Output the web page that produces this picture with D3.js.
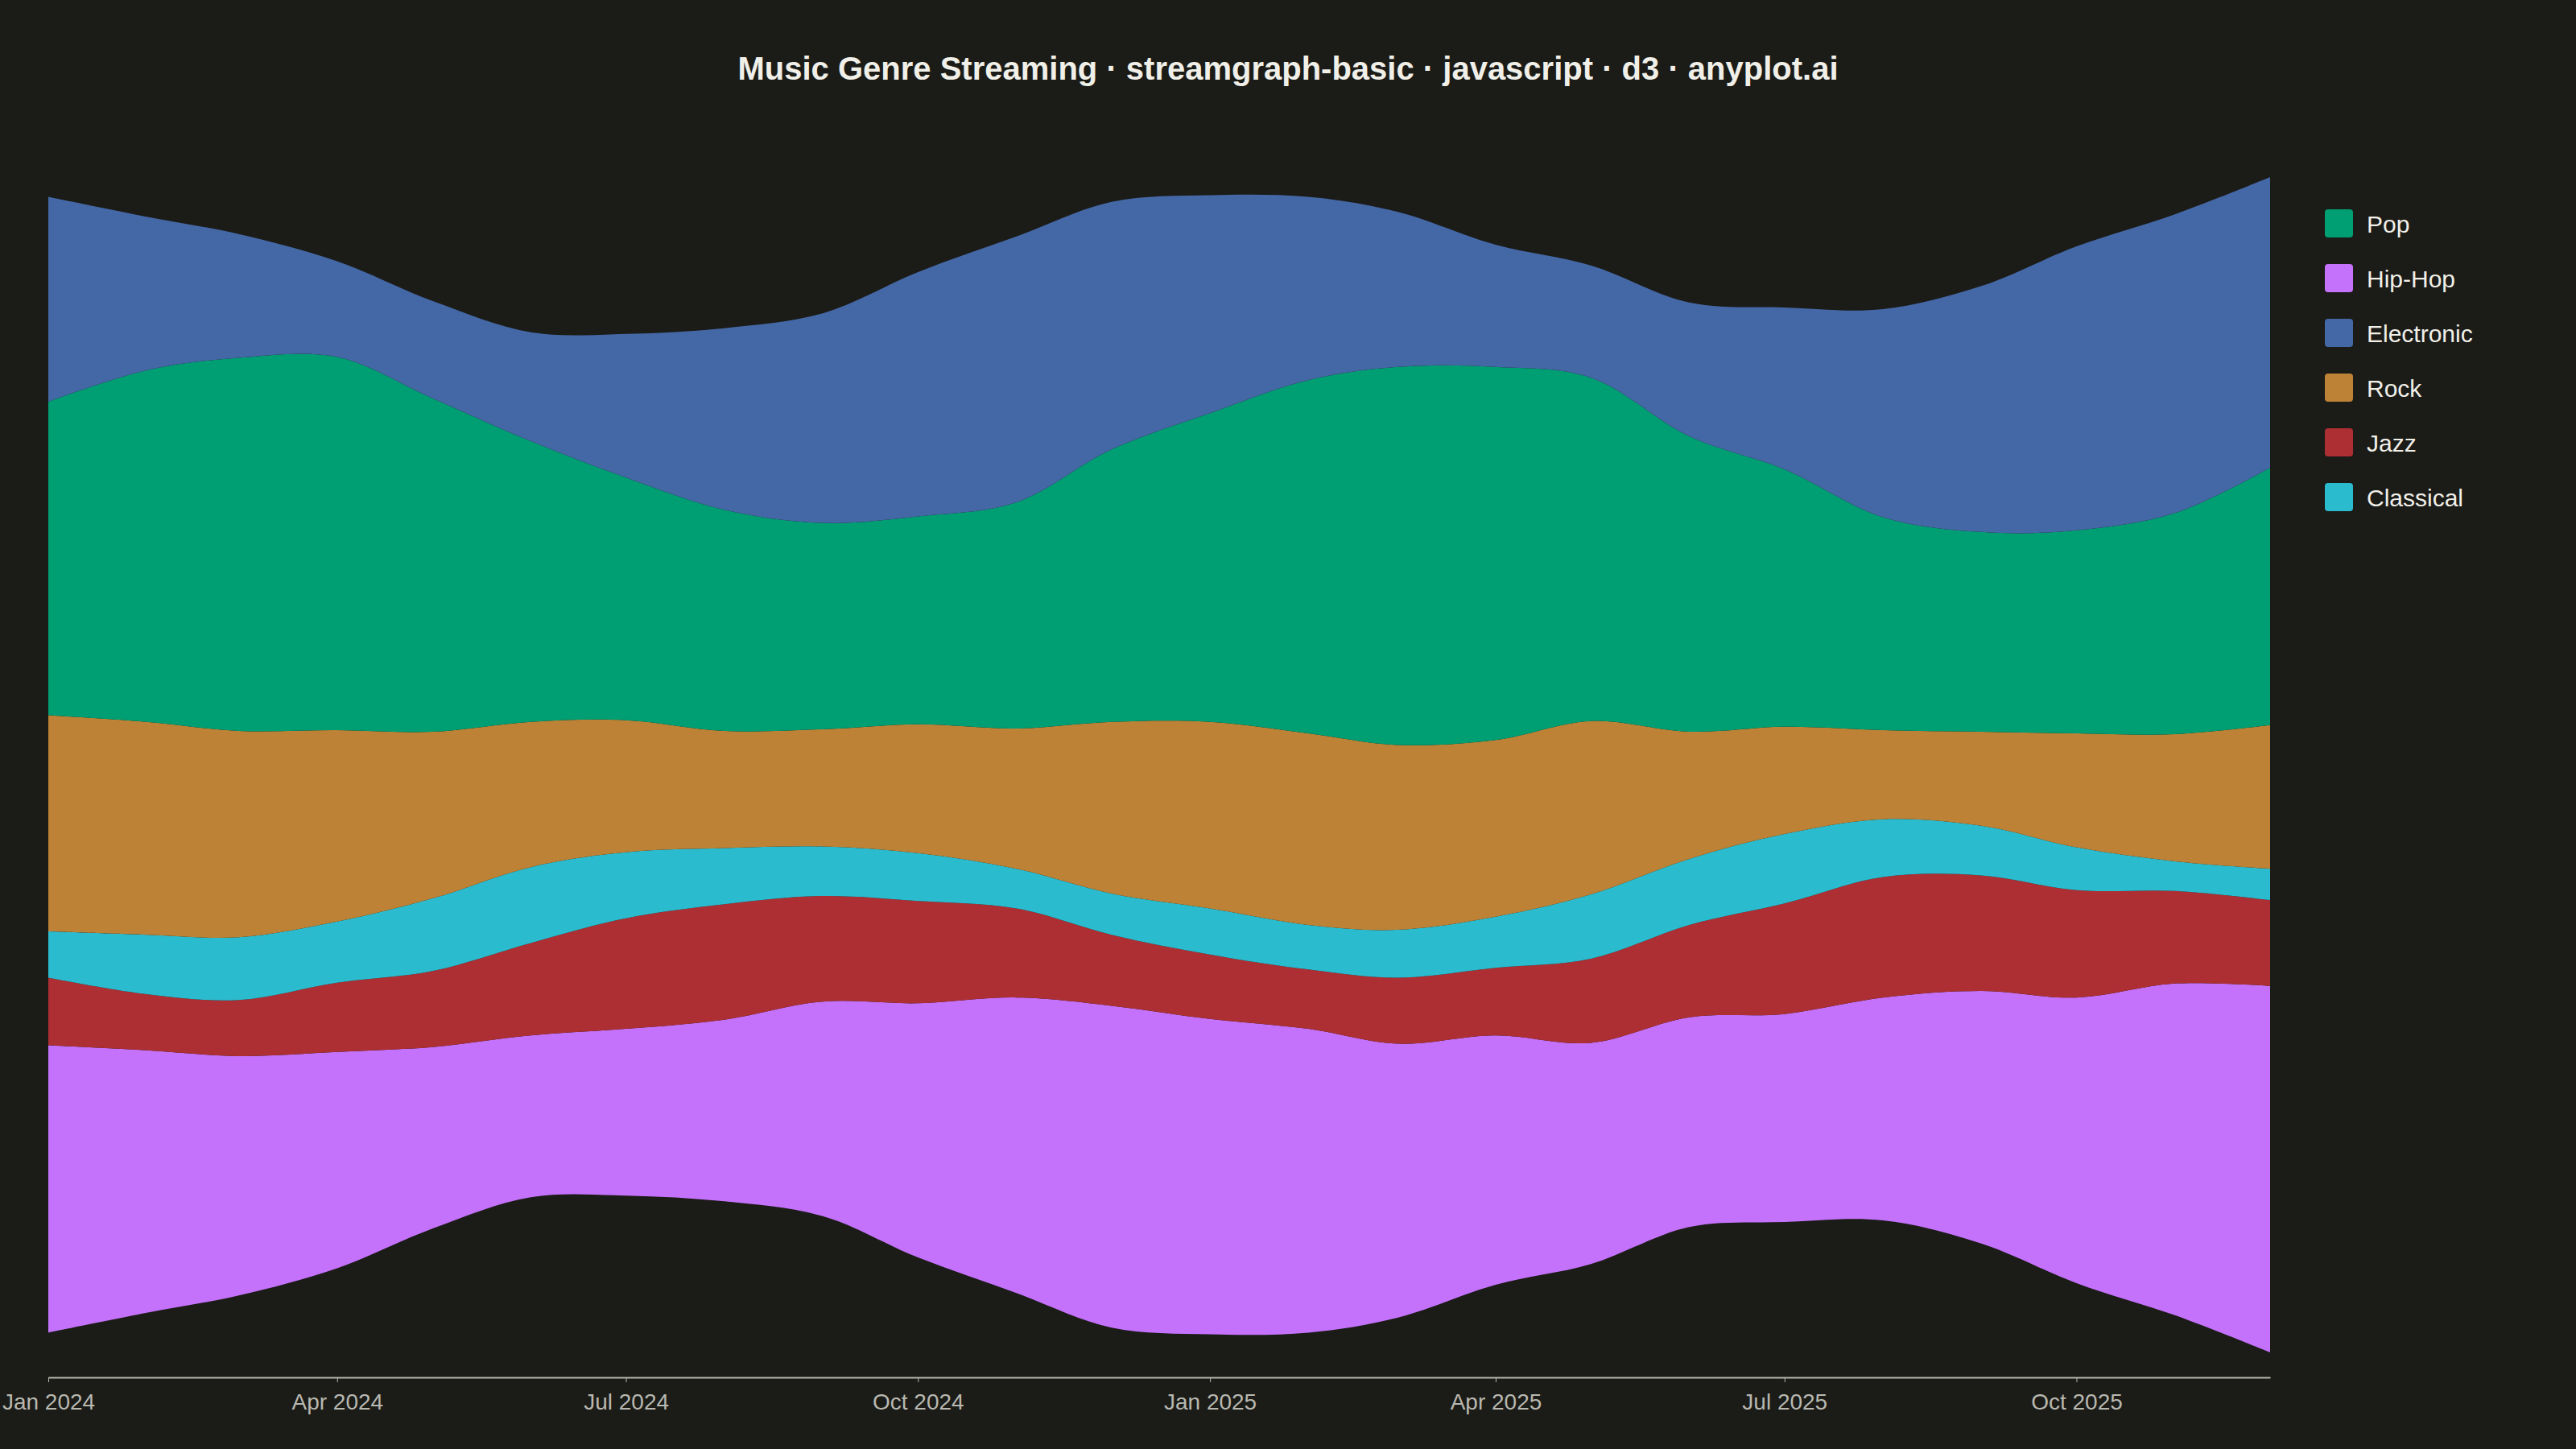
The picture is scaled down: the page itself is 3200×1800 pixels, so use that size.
<!DOCTYPE html>
<html>
<head>
<meta charset="utf-8">
<script src="https://cdn.jsdelivr.net/npm/d3@7"></script>
<style>
  body { margin: 0; background: #1b1b17; }
  svg { display: block; }
</style>
</head>
<body>
<div id="chart"></div>
<script>
// monthly streams, Jan 2024 .. Dec 2025
var months = d3.range(24).map(function(i){ return new Date(2024, i, 1); });
var hiphop     = [174,159,145,131,110,98,101,110,130,154,179,195,191,184,166,151,134,127,126,135,153,173,201,222];
var jazz       = [41,34,34,42,46,56,67,70,64,62,54,43,39,36,40,41,51,56,67,73,70,65,56,52];
var classical  = [28,36,38,37,44,46,40,34,30,29,24,25,28,27,29,31,39,40,42,35,30,26,18,19];
var rock       = [131,129,125,116,101,88,80,71,71,78,85,104,113,116,112,107,105,77,65,54,57,69,77,87];
var pop        = [190,213,226,226,202,170,147,134,125,126,137,165,187,214,229,226,208,179,156,129,121,123,134,156];
var electronic = [124,93,75,58,59,66,87,110,127,148,161,150,132,111,94,74,68,81,98,126,149,172,181,176];

var legendKeys = ["Pop","Hip-Hop","Electronic","Rock","Jazz","Classical"];
var stackKeys  = ["Hip-Hop","Jazz","Classical","Rock","Pop","Electronic"];
var colors = {"Pop":"#009e73","Hip-Hop":"#c472fb","Electronic":"#4467a5","Rock":"#bd8235","Jazz":"#ae2f33","Classical":"#2bbbcf"};
var series = {"Hip-Hop":hiphop,"Jazz":jazz,"Classical":classical,"Rock":rock,"Pop":pop,"Electronic":electronic};

var W = 3200, H = 1800;
var table = months.map(function(m, i){
  var row = {date: m};
  stackKeys.forEach(function(k){ row[k] = series[k][i]; });
  return row;
});

var stacked = d3.stack()
  .keys(stackKeys)
  .order(d3.stackOrderNone)
  .offset(d3.stackOffsetSilhouette)(table);

var x = d3.scaleTime()
  .domain([months[0], months[months.length-1]])
  .range([60, 2820]);

var yMin = d3.min(stacked, function(s){ return d3.min(s, function(d){ return d[0]; }); });
var yMax = d3.max(stacked, function(s){ return d3.max(s, function(d){ return d[1]; }); });
var y = d3.scaleLinear().domain([yMin, yMax]).range([1680, 220]);

var svg = d3.select("#chart").append("svg")
  .attr("width", W)
  .attr("height", H);

svg.append("rect").attr("width", W).attr("height", H).attr("fill", "#1b1b17");

svg.append("text")
  .attr("x", 1600).attr("y", 99)
  .attr("text-anchor", "middle")
  .style("font-family", "Liberation Sans, Arial, sans-serif")
  .style("font-size", "40px")
  .style("font-weight", "bold")
  .style("fill", "#f0efe8")
  .text("Music Genre Streaming \u00b7 streamgraph-basic \u00b7 javascript \u00b7 d3 \u00b7 anyplot.ai");

var area = d3.area()
  .curve(d3.curveCatmullRom)
  .x(function(d){ return x(d.data.date); })
  .y0(function(d){ return y(d[0]); })
  .y1(function(d){ return y(d[1]); });

svg.append("g").selectAll("path")
  .data(stacked)
  .enter().append("path")
    .attr("d", area)
    .attr("fill", function(d){ return colors[d.key]; });

// x axis
var axis = svg.append("g")
  .attr("transform", "translate(0,1711)")
  .call(d3.axisBottom(x)
    .tickValues(months.filter(function(m, i){ return i % 3 == 0; }))
    .tickFormat(d3.timeFormat("%b %Y"))
    .tickSize(6)
    .tickSizeOuter(0));
axis.select(".domain").attr("stroke", "#b8b8b0").attr("stroke-width", 2);
axis.selectAll(".tick line").attr("stroke", "#b8b8b0");
axis.selectAll("text")
  .attr("dy", "1.1em")
  .style("font-family", "Liberation Sans, Arial, sans-serif")
  .style("font-size", "28px")
  .style("fill", "#b8b8b0");

// legend
var legend = svg.selectAll(".legend")
  .data(legendKeys)
  .enter().append("g")
    .attr("class", "legend")
    .attr("transform", function(d, i){ return "translate(2888," + (260 + i * 68) + ")"; });
legend.append("rect")
  .attr("width", 35).attr("height", 35).attr("rx", 4)
  .attr("fill", function(d){ return colors[d]; });
legend.append("text")
  .attr("x", 52).attr("y", 18).attr("dy", ".35em")
  .style("font-family", "Liberation Sans, Arial, sans-serif")
  .style("font-size", "30px")
  .style("fill", "#f0efe8")
  .text(function(d){ return d; });
</script>
</body>
</html>
